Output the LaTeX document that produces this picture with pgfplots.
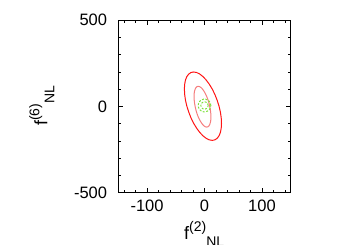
\documentclass[border=0pt]{standalone}
\usepackage{pgfplots}
\pgfplotsset{compat=1.18}
\usepackage{fontspec}
\setmainfont{Liberation Sans}

\definecolor{outerred}{RGB}{255,20,20}
\definecolor{innerred}{RGB}{245,125,125}
\definecolor{fishgreen}{RGB}{125,225,60}

% gnuplot style label: superscript then subscript, side by side
\newcommand{\fnl}[1]{f\raisebox{8bp}{\fontsize{14bp}{16bp}\selectfont(#1)}\raisebox{-7bp}{\fontsize{14bp}{16bp}\selectfont NL}}

\begin{document}
\begin{tikzpicture}
  \useasboundingbox (0,0) rectangle (350bp,245bp);
  \begin{axis}[at={(118.3bp,52.3bp)}, anchor=south west,
    scale only axis, width=172.4bp, height=172.7bp,
    xmin=-150, xmax=150, ymin=-500, ymax=500,
    xtick={-100,0,100}, xticklabels={-100,0,100},
    ytick={-500,0,500}, yticklabels={-500,0,500},
    minor xtick={-140,-120,...,140},
    minor ytick={-400,-300,...,400},
    tick align=inside, xtick pos=both, ytick pos=both,
    major tick length=5bp, minor tick length=2.5bp,
    axis line style={line width=0.8bp},
    every tick/.style={black, line width=0.6bp},
    tick label style={font=\fontsize{16.5bp}{19bp}\selectfont, inner sep=0pt},
    xticklabel style={anchor=north, yshift=-7.3bp},
    yticklabel style={anchor=east, xshift=-11bp},
    xlabel={\fnl{2}}, ylabel={\fnl{6}},
    label style={font=\fontsize{18bp}{21bp}\selectfont, inner sep=0pt},
    xlabel style={at={(axis description cs:0.381,-0.270)}, anchor=base west},
    ylabel style={at={(axis description cs:-0.412,0.386)}, anchor=base west, rotate=0},
  ]
    % outer contour
    \addplot[outerred, line width=1bp] coordinates {
      (29.6,-98.0) (29.1,-126.3) (27.7,-150.7) (25.3,-170.5) (22.0,-185.1) (18.1,-194.0)
      (13.5,-197.0) (8.3,-194.0) (2.9,-185.1) (-2.7,-170.5) (-8.3,-150.7) (-13.7,-126.3)
      (-18.9,-98.0) (-23.5,-66.7) (-27.4,-33.4) (-30.7,1) (-33.1,35.4) (-34.5,68.7)
      (-35.0,100) (-34.5,128.3) (-33.1,152.7) (-30.7,172.5) (-27.4,187.1) (-23.5,196.0)
      (-18.9,199) (-13.7,196.0) (-8.3,187.1) (-2.7,172.5) (2.9,152.7) (8.3,128.3)
      (13.5,100) (18.1,68.7) (22.0,35.4) (25.3,1) (27.7,-33.4) (29.1,-66.7) (29.6,-98.0)
    };
    % inner contour
    \addplot[innerred, line width=1bp] coordinates {
      (11.2,-61.0) (11.0,-77.9) (10.3,-92.4) (9.2,-104.2) (7.8,-112.9) (6.0,-118.2)
      (3.9,-120.0) (1.5,-118.2) (-1.0,-112.9) (-3.5,-104.2) (-6.0,-92.4) (-8.5,-77.9)
      (-10.9,-61.0) (-13.0,-42.4) (-14.8,-22.5) (-16.2,-2.0) (-17.3,18.5) (-18.0,38.4)
      (-18.2,57.0) (-18.0,73.9) (-17.3,88.4) (-16.2,100.2) (-14.8,108.9) (-13.0,114.2)
      (-10.9,116.0) (-8.5,114.2) (-6.0,108.9) (-3.5,100.2) (-1.0,88.4) (1.5,73.9)
      (3.9,57.0) (6.0,38.4) (7.8,18.5) (9.2,-2.0) (10.3,-22.5) (11.0,-42.4) (11.2,-61.0)
    };
    % green dashed contours
    \addplot[fishgreen, line width=1bp, dash pattern=on 2bp off 1.5bp] coordinates {
      (11,5) (10.3,17.7) (8.4,28.8) (5.5,37.0) (1.9,41.4) (-1.9,41.4) (-5.5,37.0)
      (-8.4,28.8) (-10.3,17.7) (-11,5) (-10.3,-7.7) (-8.4,-18.8) (-5.5,-27.0)
      (-1.9,-31.4) (1.9,-31.4) (5.5,-27.0) (8.4,-18.8) (10.3,-7.7) (11,5)
    };
    \addplot[fishgreen, line width=1bp, dash pattern=on 2bp off 1.5bp] coordinates {
      (6.3,5) (5.9,12.2) (4.8,18.5) (3.2,23.2) (1.1,25.7) (-1.1,25.7) (-3.2,23.2)
      (-4.8,18.5) (-5.9,12.2) (-6.3,5) (-5.9,-2.2) (-4.8,-8.5) (-3.2,-13.2)
      (-1.1,-15.7) (1.1,-15.7) (3.2,-13.2) (4.8,-8.5) (5.9,-2.2) (6.3,5)
    };
  \end{axis}
\end{tikzpicture}
\end{document}
